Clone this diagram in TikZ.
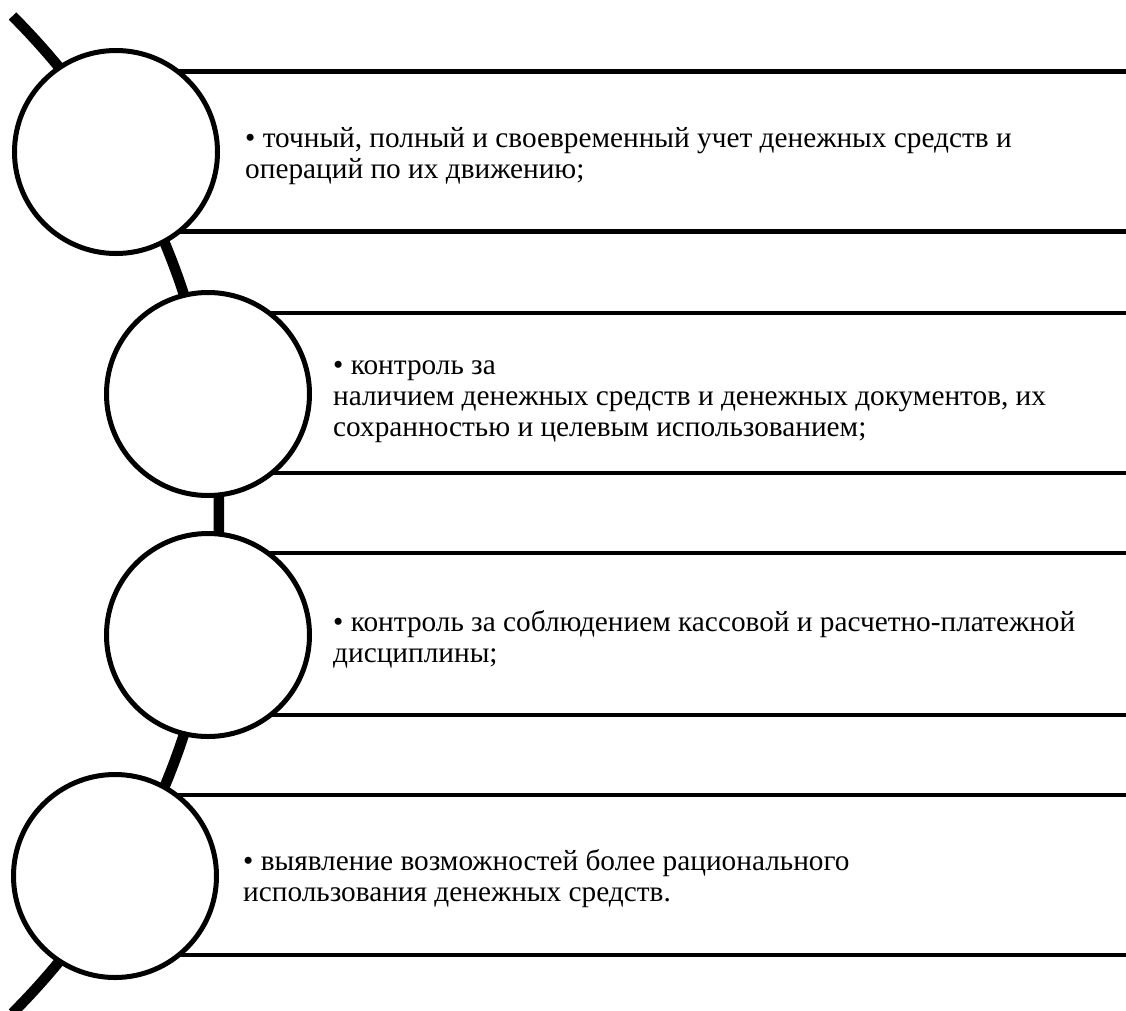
\documentclass[tikz,border=0pt]{standalone}
\usepackage{fontspec}
\setmainfont{Liberation Serif}
\begin{document}
\begin{tikzpicture}[x=1pt,y=-1pt,
  bubble/.style={circle,draw=black,line width=5pt,fill=white,minimum size=203pt,inner sep=0pt},
  rule/.style={line width=4.5pt},
  spine/.style={line width=10.5pt},
  item/.style={anchor=west,align=left,inner sep=0pt,font=\fontsize{29.3}{31}\selectfont}]
\useasboundingbox (0,0) rectangle (1126,1010);
\clip (0,0) rectangle (1126,1010);
% spine arc
\draw[spine] (12.5,16) arc[start angle=-45,end angle=45,radius=705];
% coordinates of circle centres
\coordinate (p1) at (116,152);
\coordinate (p2) at (208,394);
\coordinate (p3) at (208,635);
\coordinate (p4) at (115,876);
% rules
\foreach \p/\t/\b in {p1/71.3/231.5, p2/313/473, p3/553/715, p4/795/955}{
  \draw[rule] (\p |- 0,\t) -- (1130,\t);
  \draw[rule] (\p |- 0,\b) -- (1130,\b);
}
% circles
\node[bubble] (c1) at (p1) {};
\node[bubble] (c2) at (p2) {};
\node[bubble] (c3) at (p3) {};
\node[bubble] (c4) at (p4) {};
% texts
\node[item] (t1) at (245,156) {• точный, полный и своевременный учет денежных средств и\\операций по их движению;};
\node[item] (t2) at (333,402) {• контроль за\\наличием денежных средств и денежных документов, их\\сохранностью и целевым использованием;};
\node[item] (t3) at (333,639) {• контроль за соблюдением кассовой и расчетно-платежной\\дисциплины;};
\node[item] (t4) at (243,879) {• выявление возможностей более рационального\\использования денежных средств.};
\end{tikzpicture}
\end{document}
